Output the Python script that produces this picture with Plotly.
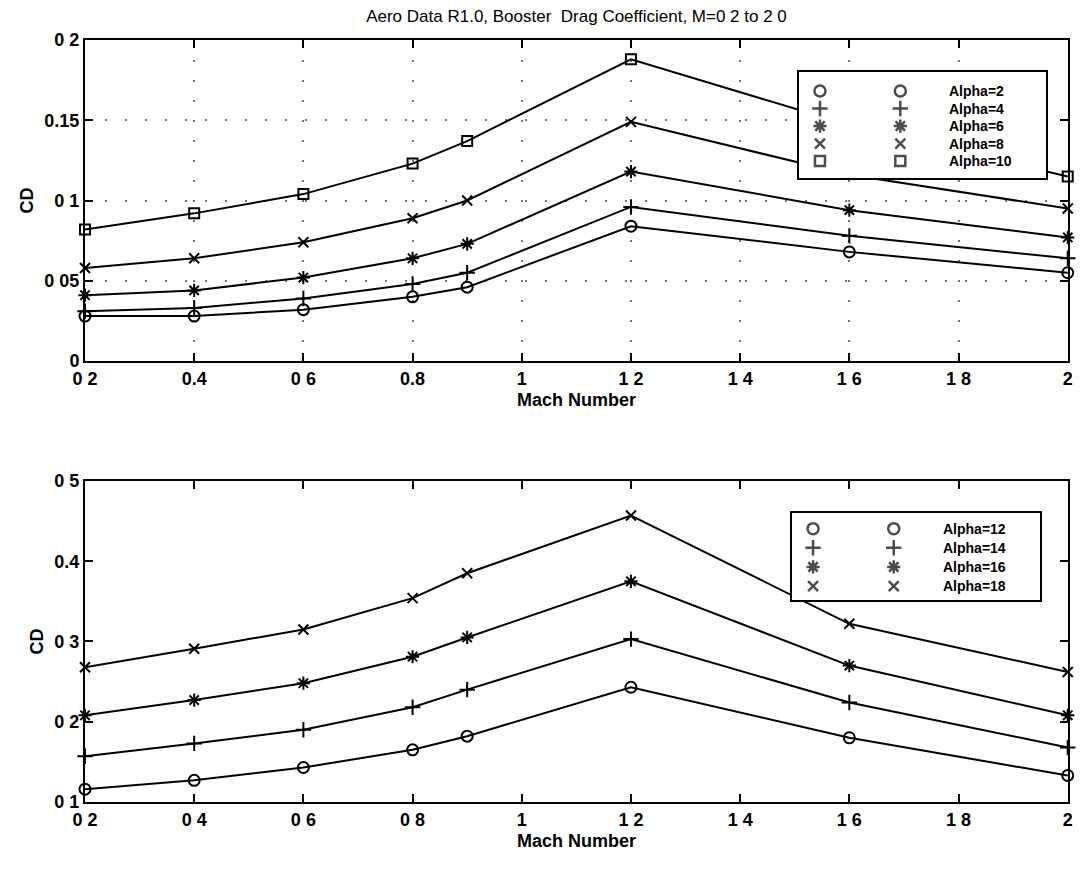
import plotly.graph_objects as go

# ---------------- data ----------------
mach = [0.2, 0.4, 0.6, 0.8, 0.9, 1.2, 1.6, 2.0]

# upper panel (Alpha = 2 .. 10)
cd_alpha2 = [0.028, 0.028, 0.032, 0.040, 0.046, 0.084, 0.068, 0.055]
cd_alpha4 = [0.031, 0.033, 0.039, 0.048, 0.055, 0.096, 0.078, 0.064]
cd_alpha6 = [0.041, 0.044, 0.052, 0.064, 0.073, 0.118, 0.094, 0.077]
cd_alpha8 = [0.058, 0.064, 0.074, 0.089, 0.100, 0.149, 0.116, 0.095]
cd_alpha10 = [0.082, 0.092, 0.104, 0.123, 0.137, 0.188, 0.147, 0.115]

# lower panel (Alpha = 12 .. 18)
cd_alpha12 = [0.116, 0.127, 0.143, 0.165, 0.182, 0.243, 0.180, 0.133]
cd_alpha14 = [0.157, 0.173, 0.190, 0.218, 0.240, 0.303, 0.224, 0.168]
cd_alpha16 = [0.208, 0.227, 0.248, 0.281, 0.305, 0.375, 0.270, 0.208]
cd_alpha18 = [0.268, 0.291, 0.315, 0.354, 0.385, 0.457, 0.322, 0.262]

top_labels = ["Alpha=2", "Alpha=4", "Alpha=6", "Alpha=8", "Alpha=10"]
bot_labels = ["Alpha=12", "Alpha=14", "Alpha=16", "Alpha=18"]

x_tickvals = [0.2, 0.4, 0.6, 0.8, 1.0, 1.2, 1.4, 1.6, 1.8, 2.0]
x_ticktext_top = ["0 2", "0.4", "0 6", "0.8", "1", "1 2", "1 4", "1 6", "1 8", "2"]
x_ticktext_bot = ["0 2", "0 4", "0 6", "0 8", "1", "1 2", "1 4", "1 6", "1 8", "2"]
y_tickvals_top = [0, 0.05, 0.1, 0.15, 0.2]
y_ticktext_top = ["0", "0 05", "0 1", "0.15", "0 2"]
y_tickvals_bot = [0.1, 0.2, 0.3, 0.4, 0.5]
y_ticktext_bot = ["0 1", "0 2", "0 3", "0.4", "0 5"]

title_text = "Aero Data R1.0, Booster  Drag Coefficient, M=0 2 to 2 0"

# ---------------- styling ----------------
FONT = "Liberation Sans Narrow, Arial Narrow, Liberation Sans, Arial, sans-serif"
symbols_top = ["circle-open", "cross-thin-open", "asterisk-open", "x-thin-open", "square-open"]
symbols_bot = ["circle-open", "cross-thin-open", "asterisk-open", "x-thin-open"]
sizes = {"circle-open": 11, "cross-thin-open": 11, "asterisk-open": 11,
         "x-thin-open": 10, "square-open": 10}

fig = go.Figure()

top_series = [cd_alpha2, cd_alpha4, cd_alpha6, cd_alpha8, cd_alpha10]
bot_series = [cd_alpha12, cd_alpha14, cd_alpha16, cd_alpha18]

for vals, sym, name in zip(top_series, symbols_top, top_labels):
    fig.add_trace(go.Scatter(
        x=mach, y=vals, mode="lines+markers", name=name, showlegend=False,
        line=dict(color="black", width=2),
        marker=dict(symbol=sym, size=sizes[sym], color="black",
                    line=dict(color="black", width=2)),
        cliponaxis=False, xaxis="x", yaxis="y"))

for vals, sym, name in zip(bot_series, symbols_bot, bot_labels):
    fig.add_trace(go.Scatter(
        x=mach, y=vals, mode="lines+markers", name=name, showlegend=False,
        line=dict(color="black", width=2),
        marker=dict(symbol=sym, size=sizes[sym], color="black",
                    line=dict(color="black", width=2)),
        cliponaxis=False, xaxis="x2", yaxis="y2"))

# ---------------- hand-made MATLAB style legends (inset axes) ----------------
def legend_rows(n):
    top, bottom = 0.82, 0.16
    step = (top - bottom) / (n - 1)
    return [top - i * step for i in range(n)]

for labels, syms, xa, ya in [(top_labels, symbols_top, "x3", "y3"),
                              (bot_labels, symbols_bot, "x4", "y4")]:
    rows = legend_rows(len(labels))
    for col in (0.085, 0.41):
        fig.add_trace(go.Scatter(
            x=[col] * len(labels), y=rows, mode="markers", showlegend=False,
            hoverinfo="skip",
            marker=dict(symbol=syms, size=[sizes[s] for s in syms], color="black",
                        line=dict(color="black", width=2.5)),
            xaxis=xa, yaxis=ya))
    for lab, r in zip(labels, rows):
        fig.add_annotation(x=0.6, y=r, xref=xa, yref=ya, text=lab, showarrow=False,
                           xanchor="left", yanchor="middle",
                           font=dict(family=FONT, size=14, color="black", weight="bold"))

# ---------------- axes ----------------
common_x = dict(range=[0.2, 2.0005], tickvals=x_tickvals, ticks="inside", ticklen=8,
                tickwidth=2, tickcolor="black", showline=True, linewidth=2,
                linecolor="black", mirror="ticks", zeroline=False,
                ticklabeloverflow="allow",
                tickfont=dict(family=FONT, size=18, color="black", weight="bold"))
common_y = dict(ticks="inside", ticklen=8, tickwidth=2, tickcolor="black",
                showline=True, linewidth=2, linecolor="black", mirror="ticks",
                zeroline=False, ticklabeloverflow="allow",
                tickfont=dict(family=FONT, size=18, color="black", weight="bold"))

grid_style = dict(showgrid=True, gridcolor="rgba(0,0,0,0.55)", gridwidth=2,
                  griddash="2px,18px")

xt = dict(common_x, domain=[0, 1], anchor="y", ticktext=x_ticktext_top, **grid_style,
          title=dict(text="Mach Number", standoff=6,
                     font=dict(family=FONT, size=18, color="black", weight="bold")))
yt = dict(common_y, domain=[0.5787, 1.0], anchor="x", range=[0, 0.2],
          tickvals=y_tickvals_top, ticktext=y_ticktext_top, **grid_style,
          title=dict(text="CD", standoff=6,
                     font=dict(family=FONT, size=18, color="black", weight="bold")))
xb = dict(common_x, domain=[0, 1], anchor="y2", ticktext=x_ticktext_bot, showgrid=False,
          title=dict(text="Mach Number", standoff=6,
                     font=dict(family=FONT, size=18, color="black", weight="bold")))
yb = dict(common_y, domain=[0.0, 0.4213], anchor="x2", range=[0.1, 0.5],
          tickvals=y_tickvals_bot, ticktext=y_ticktext_bot, showgrid=False,
          title=dict(text="CD", standoff=6,
                     font=dict(family=FONT, size=18, color="black", weight="bold")))

inset = dict(range=[0, 1], showticklabels=False, ticks="", showgrid=False,
             zeroline=False, showline=True, linewidth=2, linecolor="black",
             mirror=True, fixedrange=True)

fig.update_layout(
    width=1081, height=870,
    margin=dict(l=85, r=8, t=40, b=68),
    paper_bgcolor="white", plot_bgcolor="white",
    font=dict(family=FONT, color="black"),
    title=dict(text=title_text, x=0.5, xref="paper", y=1 - 16 / 870, yanchor="middle",
               font=dict(family=FONT, size=17, color="black")),
    xaxis=xt, yaxis=yt, xaxis2=xb, yaxis2=yb,
    xaxis3=dict(inset, domain=[0.7263, 0.9778], anchor="y3"),
    yaxis3=dict(inset, domain=[0.8189, 0.958], anchor="x3"),
    xaxis4=dict(inset, domain=[0.7192, 0.9717], anchor="y4"),
    yaxis4=dict(inset, domain=[0.2651, 0.3793], anchor="x4"),
    showlegend=False,
)

fig.write_html(
    "out.html",
    config={"displayModeBar": False},
    post_script="document.body.style.margin='0';document.body.style.overflow='hidden';",
)
